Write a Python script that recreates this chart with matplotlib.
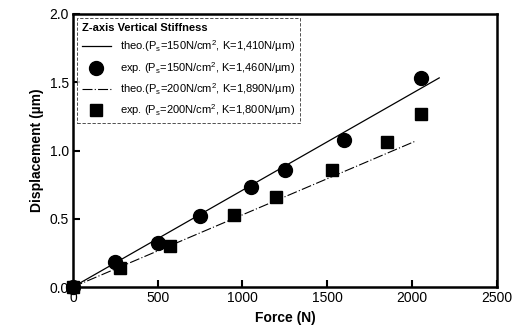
import matplotlib
matplotlib.use("Agg")
import matplotlib.pyplot as plt
from matplotlib.lines import Line2D

plt.rcParams['font.family'] = ['Liberation Sans', 'DejaVu Sans']
plt.rcParams['mathtext.fontset'] = 'custom'
plt.rcParams['mathtext.rm'] = 'Liberation Sans'
plt.rcParams['mathtext.it'] = 'Liberation Sans'

# --- DATA ---
force_150 = [0, 250, 500, 750, 1050, 1250, 1600, 2050]
disp_150 = [0.0, 0.18, 0.32, 0.52, 0.73, 0.86, 1.08, 1.53]
force_200 = [0, 280, 570, 950, 1200, 1530, 1850, 2050]
disp_200 = [0.0, 0.14, 0.30, 0.53, 0.66, 0.86, 1.06, 1.27]

k_theo_150 = 1410  # N/um
k_theo_200 = 1890
theo_range_150 = [0, 2160]
theo_range_200 = [0, 2020]

labels = [
    'theo.(P$_s$=150N/cm$^2$, K=1,410N/\u00b5m)',
    'exp. (P$_s$=150N/cm$^2$, K=1,460N/\u00b5m)',
    'theo.(P$_s$=200N/cm$^2$, K=1,890N/\u00b5m)',
    'exp. (P$_s$=200N/cm$^2$, K=1,800N/\u00b5m)',
]

fig = plt.figure(figsize=(5.32, 3.33), dpi=100)
ax = fig.add_axes([0.137, 0.138, 0.797, 0.82])

ax.plot(theo_range_150, [f / k_theo_150 for f in theo_range_150], color='black', lw=0.9)
ax.plot(force_150, disp_150, 'o', color='black', ms=10, clip_on=False)
ax.plot(theo_range_200, [f / k_theo_200 for f in theo_range_200], color='black', lw=0.8,
        linestyle=(0, (9, 2, 1, 2)))
ax.plot(force_200, disp_200, 's', color='black', ms=9, clip_on=False)

ax.set_xlim(0, 2500)
ax.set_ylim(0, 2.0)
ax.set_xticks([0, 500, 1000, 1500, 2000, 2500])
ax.set_yticks([0.0, 0.5, 1.0, 1.5, 2.0])
ax.set_yticklabels(['0.0', '0.5', '1.0', '1.5', '2.0'])
ax.tick_params(direction='in', length=5, width=1.5, labelsize=10, pad=3)
for s in ax.spines.values():
    s.set_linewidth(1.8)

ax.set_xlabel('Force (N)', fontsize=10, fontweight='bold')
ax.set_ylabel('Displacement (\u00b5m)', fontsize=10, fontweight='bold')

handles = [
    Line2D([], [], color='black', lw=0.9),
    Line2D([], [], marker='o', color='black', ls='', ms=10),
    Line2D([], [], color='black', lw=0.8, linestyle=(0, (9, 2, 1, 2))),
    Line2D([], [], marker='s', color='black', ls='', ms=9),
]
leg = ax.legend(handles, labels, title='Z-axis Vertical Stiffness', loc='upper left',
                fontsize=8, title_fontsize=8, frameon=True, fancybox=False,
                edgecolor='black', handlelength=2.6, borderaxespad=0.4,
                labelspacing=0.5, alignment='left')
leg.get_title().set_fontweight('bold')
leg.get_frame().set_linewidth(0.6)
leg.get_frame().set_linestyle((0, (4, 2)))

fig.savefig('out.png', dpi=100)
